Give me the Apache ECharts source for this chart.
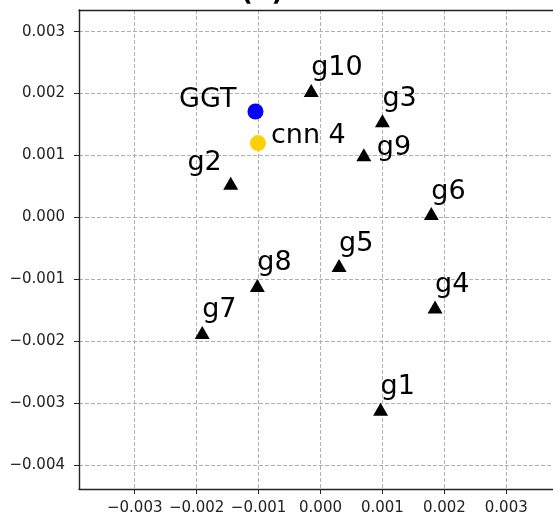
<!DOCTYPE html>
<html>
<head>
<meta charset="utf-8">
<script src="https://cdn.jsdelivr.net/npm/echarts@6/dist/echarts.min.js"></script>
<style>
html,body{margin:0;padding:0;background:#fff;overflow:hidden;}
#chart{width:570px;height:517px;}
</style>
</head>
<body>
<div id="chart"></div>
<script>
// ---- data ----
var groupNames = ['g1','g2','g3','g4','g5','g6','g7','g8','g9','g10'];
var groupX = [0.00097, -0.00145, 0.00100, 0.00185, 0.00030, 0.00179, -0.00191, -0.00102, 0.00070, -0.00015];
var groupY = [-0.00310, 0.00055, 0.00156, -0.00145, -0.00078, 0.00006, -0.00186, -0.00110, 0.00101, 0.00205];
var modelNames = ['GGT', 'cnn 4'];
var modelX = [-0.00105, -0.00101];
var modelY = [0.00171, 0.00120];
var titleText = '(b) Threads';

// ---- label styling (not data) ----
var defaultGroupLabel = {align: 'left', offset: [0, -22]};
var labelStyles = {
  'g2': {align: 'right', offset: [-9, -20]},
  'g9': {align: 'left', offset: [13, -7]},
  'GGT': {align: 'right', offset: [-19, -12]},
  'cnn 4': {align: 'left', offset: [13, -7]}
};
var modelColors = {'GGT': '#0000ff', 'cnn 4': '#ffd000'};

function fmt(v) {
  if (Math.abs(v) < 1e-12) return '0.000';
  var s = Math.abs(v).toFixed(3);
  return (v < 0 ? '\u2212' : '') + s;
}
function mkLabel(name) {
  var st = labelStyles[name] || defaultGroupLabel;
  return {
    show: true, position: 'inside', formatter: name,
    align: st.align, verticalAlign: 'middle', offset: st.offset,
    fontFamily: 'DejaVu Sans', fontSize: 27, color: '#000',
    textBorderWidth: 0
  };
}

var groupData = groupNames.map(function (n, i) {
  return {name: n, value: [groupX[i], groupY[i]], label: mkLabel(n)};
});
var modelData = modelNames.map(function (n, i) {
  return {name: n, value: [modelX[i], modelY[i]], label: mkLabel(n),
          itemStyle: {color: modelColors[n], opacity: 1}};
});

var axisCommon = {
  type: 'value',
  minInterval: 0.001, maxInterval: 0.001, splitNumber: 8,
  axisLine: {show: true, onZero: false, lineStyle: {color: '#222', width: 1.4}},
  axisTick: {show: true, inside: false, length: 5, lineStyle: {color: '#222', width: 1}},
  axisLabel: {show: true, showMinLabel: false, showMaxLabel: false, formatter: fmt,
              fontFamily: 'DejaVu Sans', fontSize: 15, color: '#222'},
  splitLine: {show: true, lineStyle: {color: '#b0b0b0', type: [4, 2], width: 1}}
};

var chart = echarts.init(document.getElementById('chart'), null, {renderer: 'canvas'});
chart.setOption({
  backgroundColor: '#fff',
  animation: false,
  title: {
    text: titleText, left: 321, top: -25, textAlign: 'center',
    textStyle: {fontFamily: 'DejaVu Sans', fontWeight: 'bold', fontSize: 26, color: '#000'}
  },
  grid: {left: 79, top: 10, width: 483, height: 479, containLabel: false, show: false},
  xAxis: [
    Object.assign({}, axisCommon, {min: -0.0039, max: 0.0039, position: 'bottom',
      axisLabel: Object.assign({}, axisCommon.axisLabel, {margin: 12})}),
    {type: 'value', min: -0.0039, max: 0.0039, position: 'top',
      axisLine: {show: true, onZero: false, lineStyle: {color: '#222', width: 1.4}},
      axisTick: {show: false}, axisLabel: {show: false}, splitLine: {show: false}}
  ],
  yAxis: Object.assign({}, axisCommon, {min: -0.00439, max: 0.00335, position: 'left',
    axisLabel: Object.assign({}, axisCommon.axisLabel, {margin: 14})}),
  series: [
    {type: 'scatter', name: 'groups', symbol: 'triangle', symbolSize: [15, 13],
     xAxisIndex: 0, itemStyle: {color: '#000', opacity: 1}, data: groupData, z: 3},
    {type: 'scatter', name: 'models', symbol: 'circle', symbolSize: 16,
     xAxisIndex: 0, data: modelData, z: 4}
  ]
});
</script>
</body>
</html>
